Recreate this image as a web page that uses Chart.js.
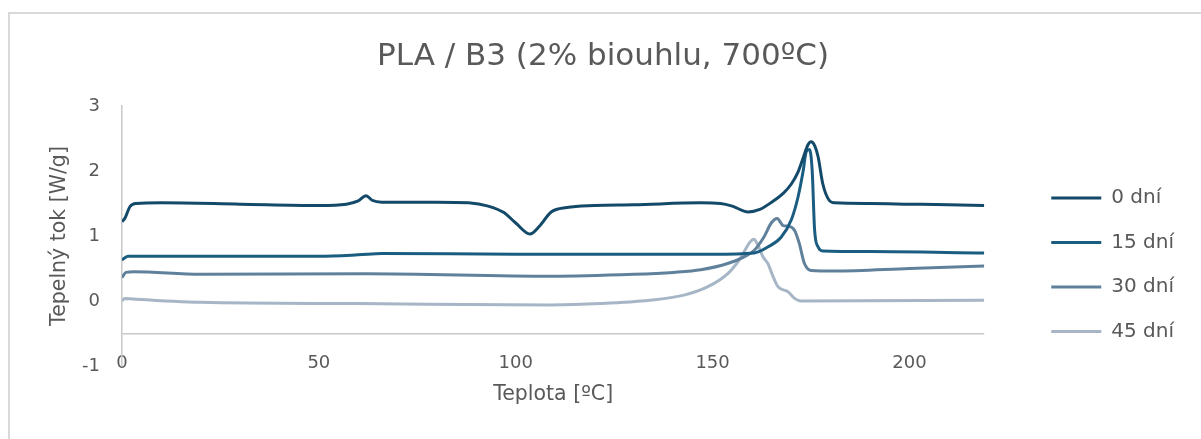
<!DOCTYPE html>
<html>
<head>
<meta charset="utf-8">
<script src="https://cdn.jsdelivr.net/npm/chart.js@4.4.1/dist/chart.umd.min.js"></script>
<style>
  body { margin: 0; background: #fff; }
  #wrap { position: relative; width: 1201px; height: 439px; overflow: hidden; }
  #frame { position: absolute; left: 8px; top: 12px; right: -10px; bottom: -10px;
           border-left: 2px solid #d9d9d9; border-top: 2px solid #d9d9d9; }
  canvas { position: absolute; left: 0; top: 0; }
</style>
</head>
<body>
<div id="wrap">
  <div id="frame"></div>
  <canvas id="dscChart" width="1201" height="439"></canvas>
</div>
<script>
const seriesNames = ['0 dní', '15 dní', '30 dní', '45 dní'];
const seriesColors = ['#134a69', '#1b5d80', '#60819b', '#a6b6c6'];

const temp0 = [0, 0.8, 2, 3.5, 10, 30, 50, 57, 60, 62, 63.5, 66, 80, 88, 93, 97, 100, 103.6, 106, 109, 113, 120, 130, 147, 152, 155, 159, 162, 165, 168, 170, 171.6, 173, 174.2, 175, 176, 176.8, 178, 179.6, 181, 190, 200, 210, 219];
const flow0 = [1.22, 1.28, 1.45, 1.5, 1.51, 1.49, 1.47, 1.49, 1.54, 1.62, 1.55, 1.52, 1.52, 1.51, 1.46, 1.36, 1.2, 1.03, 1.15, 1.37, 1.44, 1.47, 1.48, 1.51, 1.5, 1.46, 1.37, 1.41, 1.52, 1.66, 1.8, 1.97, 2.2, 2.4, 2.45, 2.38, 2.22, 1.8, 1.55, 1.51, 1.5, 1.49, 1.48, 1.47];

const temp15 = [0, 1.5, 20, 50, 60, 66, 100, 130, 150, 160.6, 164, 167.4, 170, 171.7, 173, 173.8, 174.6, 175.3, 175.9, 176.8, 178, 190, 219];
const flow15 = [0.63, 0.69, 0.69, 0.69, 0.71, 0.73, 0.72, 0.72, 0.72, 0.74, 0.83, 0.98, 1.25, 1.6, 2.0, 2.3, 2.33, 2.0, 1.1, 0.83, 0.77, 0.76, 0.74];

const temp30 = [0, 1, 3, 20, 62, 109, 130, 140, 147, 154, 158, 160.6, 163, 164.9, 166.4, 167.9, 169.2, 170.8, 172, 173.3, 175, 181, 200, 219];
const flow30 = [0.36, 0.44, 0.45, 0.41, 0.42, 0.38, 0.41, 0.44, 0.48, 0.58, 0.68, 0.78, 0.98, 1.2, 1.27, 1.16, 1.15, 1.09, 0.89, 0.58, 0.47, 0.46, 0.5, 0.54];

const temp45 = [0, 0.7, 3, 20, 60, 109, 121.6, 134, 142.7, 148.8, 154, 157.3, 159.3, 160.5, 161.6, 162.8, 164, 165.4, 166.6, 169.2, 170.8, 172.5, 219];
const flow45 = [0.0, 0.04, 0.03, -0.02, -0.04, -0.06, -0.04, 0.01, 0.09, 0.22, 0.43, 0.68, 0.89, 0.95, 0.85, 0.68, 0.58, 0.37, 0.22, 0.14, 0.04, 0.0, 0.01];

const xTicks = [0, 50, 100, 150, 200];
const yTicks = [-1, 0, 1, 2, 3];
const xAxisCrossing = -0.5;   // horizontal axis line sits here in the original

const temps = [temp0, temp15, temp30, temp45];
const flows = [flow0, flow15, flow30, flow45];

const txt = '#595959';
const axisCol = '#c8c8c8';
const font = 'DejaVu Sans';

const datasets = seriesNames.map((name, i) => ({
  label: name,
  data: temps[i].map((t, j) => ({ x: t, y: flows[i][j] })),
  borderColor: seriesColors[i],
  backgroundColor: seriesColors[i],
  borderWidth: 3,
  pointRadius: 0,
  cubicInterpolationMode: 'monotone',
  fill: false
}));

new Chart(document.getElementById('dscChart'), {
  type: 'line',
  data: { datasets: datasets },
  options: {
    responsive: false,
    animation: false,
    layout: { padding: { left: 22, right: 17, top: 0, bottom: 0 } },
    plugins: {
      title: {
        display: true,
        text: 'PLA / B3 (2% biouhlu, 700ºC)',
        color: txt,
        font: { family: font, size: 31, weight: 'normal' },
        padding: { top: 38.4, bottom: 30.4 }
      },
      legend: {
        position: 'right',
        align: 'end',
        fullSize: false,
        labels: {
          usePointStyle: true,
          pointStyle: 'line',
          pointStyleWidth: 50,
          padding: 24.5,
          color: txt,
          font: { family: font, size: 20 }
        }
      },
      tooltip: { enabled: false }
    },
    scales: {
      x: {
        type: 'linear',
        min: 0,
        max: 219,
        afterFit: s => { s.height = 73; },
        afterBuildTicks: s => { s.ticks = xTicks.map(v => ({ value: v })); },
        grid: { display: false, drawTicks: false },
        border: { display: false },
        ticks: { mirror: true, padding: -7.8, color: txt, font: { family: font, size: 18 } },
        title: {
          display: true,
          text: 'Teplota [ºC]',
          color: txt,
          font: { family: font, size: 20.5 },
          padding: { top: 0, bottom: 31.7 }
        }
      },
      y: {
        type: 'linear',
        min: -1,
        max: 3,
        afterFit: s => { s.width = 100; },
        afterBuildTicks: s => {
          s.ticks = yTicks.concat([xAxisCrossing]).map(v => ({ value: v }));
        },
        grid: {
          display: true,
          drawTicks: false,
          lineWidth: 1.5,
          color: c => (c.tick && c.tick.value === xAxisCrossing) ? axisCol : 'rgba(0,0,0,0)'
        },
        border: { display: true, color: axisCol, width: 1.5 },
        ticks: {
          padding: 22,
          color: txt,
          font: { family: font, size: 18 },
          callback: v => (v === xAxisCrossing ? '' : v)
        },
        title: {
          display: true,
          text: 'Tepelný tok [W/g]',
          color: txt,
          font: { family: font, size: 20.5 },
          padding: { top: 25.7, bottom: 0 }
        }
      },
      gap: {
        type: 'linear',
        position: 'right',
        display: true,
        afterFit: s => { s.width = 42.5; },
        grid: { display: false, drawTicks: false },
        border: { display: false },
        ticks: { display: false }
      }
    }
  }
});
</script>
</body>
</html>
